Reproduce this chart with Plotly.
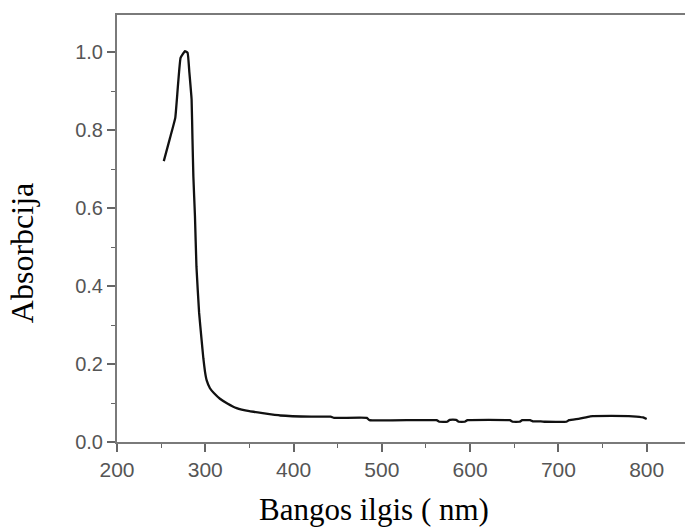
import plotly.graph_objects as go

# Wavelength (nm) and absorbance
wavelength = [253, 260, 266, 272, 277, 280, 282, 284.5, 285.5, 286.5, 288.3, 290, 293, 295.8,
              297.8, 299.7, 301.6, 305.3, 310, 316.6, 325, 335.5, 350, 365, 385, 420, 442, 446,
              483, 486, 562, 565, 574, 577, 584, 587, 594, 597, 645, 648, 656, 659, 668, 671,
              680, 685, 709, 712, 724, 736, 760, 784, 796, 800]
absorbance = [0.721, 0.78, 0.832, 0.986, 1.003, 0.999, 0.948, 0.879, 0.777, 0.682, 0.58, 0.45,
              0.332, 0.263, 0.215, 0.180, 0.158, 0.138, 0.125, 0.111, 0.099, 0.087, 0.079,
              0.074, 0.068, 0.065, 0.065, 0.062, 0.062, 0.056, 0.056, 0.052, 0.052, 0.057,
              0.057, 0.052, 0.052, 0.056, 0.056, 0.052, 0.052, 0.056, 0.056, 0.053, 0.053,
              0.052, 0.052, 0.056, 0.060, 0.066, 0.067, 0.066, 0.063, 0.059]

x_ticks = [200, 300, 400, 500, 600, 700, 800]
y_ticks = [0.0, 0.2, 0.4, 0.6, 0.8, 1.0]
x_title = "Bangos ilgis ( nm)"
y_title = "Absorbcija"

fig = go.Figure()
fig.add_trace(go.Scatter(x=wavelength, y=absorbance, mode="lines",
                         line=dict(color="#111111", width=2.3, shape="spline", smoothing=0.3),
                         showlegend=False))

axis_col = "#7a7a7a"
fig.update_layout(
    width=687, height=529,
    margin=dict(l=117, r=2, t=15, b=87),
    paper_bgcolor="white", plot_bgcolor="white",
    xaxis=dict(range=[200, 843.4], tickvals=x_ticks, ticktext=[str(v) for v in x_ticks],
               showgrid=False, zeroline=False, showline=True, linecolor=axis_col, linewidth=2,
               mirror=True, ticks="outside", ticklen=8, tickwidth=1.5, tickcolor="#666666",
               tickfont=dict(family="Liberation Sans, Arial", size=21, color="#555555"),
               minor=dict(dtick=50, ticks="outside", ticklen=4, tickwidth=1.2, tickcolor="#666666")),
    yaxis=dict(range=[0, 1.096], tickvals=y_ticks, ticktext=["%.1f" % v for v in y_ticks],
               showgrid=False, zeroline=False, showline=True, linecolor=axis_col, linewidth=2,
               ticks="outside", ticklen=8, tickwidth=1.5, tickcolor="#666666",
               tickfont=dict(family="Liberation Sans, Arial", size=20, color="#555555"),
               minor=dict(dtick=0.1, ticks="outside", ticklen=4, tickwidth=1.2, tickcolor="#666666")),
    annotations=[
        dict(text=x_title, xref="paper", yref="paper", x=0.4525, y=-0.159,
             xanchor="center", yanchor="middle", showarrow=False,
             font=dict(family="Liberation Serif, Times New Roman", size=31, color="black")),
        dict(text=y_title, xref="paper", yref="paper", x=-0.167, y=0.4426,
             xanchor="center", yanchor="middle", showarrow=False, textangle=-90,
             font=dict(family="Liberation Serif, Times New Roman", size=32, color="black")),
    ],
)

fig.write_html("out.html")
